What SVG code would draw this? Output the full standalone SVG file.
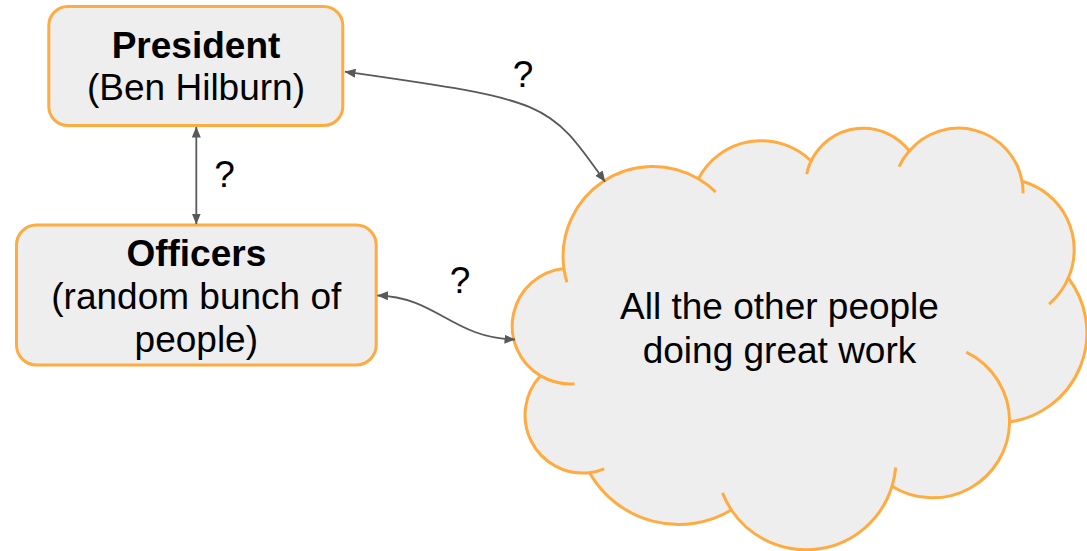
<svg xmlns="http://www.w3.org/2000/svg" width="1087" height="551" viewBox="0 0 1087 551">
<style>
.box{fill:#eeeeee;stroke:#ffab40;stroke-width:3}
.cl{fill:#eeeeee;stroke:#ffab40;stroke-width:3;stroke-linejoin:round}
.inner{fill:none;stroke:#ffab40;stroke-width:3}
.t{font-family:"Liberation Sans",Arial,sans-serif;font-size:37px;fill:#000000;text-anchor:middle}
.b{font-weight:bold}
.conn{fill:none;stroke:#595959;stroke-width:1.8}
</style>
<defs>
<marker id="ah" viewBox="0 0 11 9" refX="10.5" refY="4.5" markerWidth="11" markerHeight="9" markerUnits="userSpaceOnUse" orient="auto-start-reverse">
<path d="M0,0 L11,4.5 L0,9 Z" fill="#595959"/>
</marker>
</defs>
<rect width="1087" height="551" fill="#ffffff"/>
<g id="cloud">
<path class="cl" d="M 563.9 268.4 A 89.85 89.85 0 0 1 698.4 178.8 A 71 71 0 0 1 811 161 A 58.1 58.1 0 0 1 909.3 151 A 64.5 64.5 0 0 1 1022 181.2 A 71 71 0 0 1 1068.3 278 A 90.1 90.1 0 0 1 1009.6 422 A 76.9 76.9 0 0 1 892 486.2 A 89.9 89.9 0 0 1 731.4 510 A 102.9 102.9 0 0 1 589.5 472.7 A 57.9 57.9 0 0 1 540.5 375.8 A 57.95 57.95 0 0 1 563.9 268.4 Z"/>
<path class="inner" d="M 574.5 383.7 A 57.95 57.95 0 0 1 540.7 375.9 M 604.2 468.9 A 57.9 57.9 0 0 1 589.5 472.7 M 731.4 510 A 89.9 89.9 0 0 1 722.5 492.9 M 895.7 467.5 A 89.9 89.9 0 0 1 892 486.2 M 966.3 352.2 A 76.9 76.9 0 0 1 1009.6 422 M 1068.3 278 A 71 71 0 0 1 1049.1 304.1 M 1022.1 181 A 64.5 64.5 0 0 1 1023 193.4 M 899 166.6 A 64.5 64.5 0 0 1 909.3 151 M 806.7 174.1 A 58.1 58.1 0 0 1 811 161 M 698.4 178.8 A 89.85 89.85 0 0 1 715.7 192 M 566.9 282.2 A 89.85 89.85 0 0 1 563.9 268.4"/>
<text class="t" x="779.5" y="319">All the other people</text>
<text class="t" x="779.5" y="363">doing great work</text>
</g>
<g id="president">
<rect class="box" x="48.8" y="6.5" width="294" height="119" rx="19" ry="19"/>
<text class="t b" x="196" y="58.3">President</text>
<text class="t" x="196" y="100.3">(Ben Hilburn)</text>
</g>
<g id="officers">
<rect class="box" x="16.5" y="225" width="359.7" height="140" rx="20" ry="20"/>
<text class="t b" x="196.3" y="265.5">Officers</text>
<text class="t" x="196.3" y="308.5">(random bunch of</text>
<text class="t" x="196.3" y="351.5">people)</text>
</g>
<g id="connectors">
<path class="conn" d="M 196.3 127 L 196.3 224" marker-start="url(#ah)" marker-end="url(#ah)"/>
<path class="conn" d="M 345 71.7 C 548 100.7, 548 100.7, 605 181.7" marker-start="url(#ah)" marker-end="url(#ah)"/>
<path class="conn" d="M 377.5 295.5 C 437 297, 452 338, 515 339.5" marker-start="url(#ah)" marker-end="url(#ah)"/>
<text class="t" x="224.5" y="187">?</text>
<text class="t" x="523" y="86.7">?</text>
<text class="t" x="460" y="293.3">?</text>
</g>
</svg>
